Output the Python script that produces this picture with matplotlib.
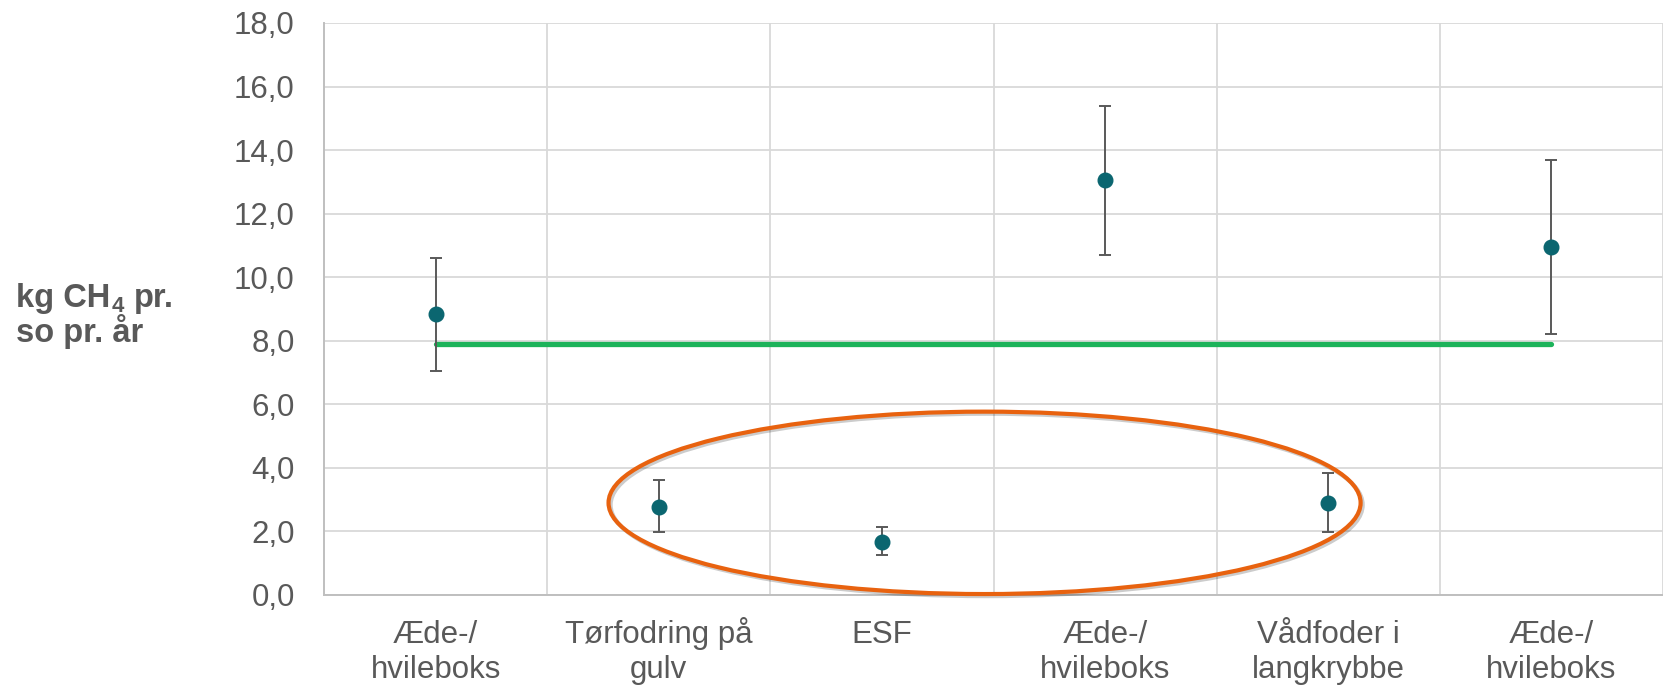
import matplotlib
matplotlib.use("Agg")
import matplotlib.pyplot as plt
import matplotlib.patheffects as pe
from matplotlib.patches import Ellipse

plt.rcParams['font.family'] = ['Liberation Sans', 'DejaVu Sans']

# Data
categories = ["Æde-/\nhvileboks", "Tørfodring på\ngulv", "ESF",
              "Æde-/\nhvileboks", "Vådfoder i\nlangkrybbe", "Æde-/\nhvileboks"]
values = [8.85, 2.77, 1.68, 13.05, 2.90, 10.95]
err_low = [7.05, 1.97, 1.26, 10.70, 1.99, 8.20]
err_high = [10.60, 3.62, 2.14, 15.38, 3.84, 13.68]
reference_level = 7.90
y_ticks = [0, 2, 4, 6, 8, 10, 12, 14, 16, 18]

# highlight ellipse (data coordinates)
ellipse_center = (2.46, 2.90)
ellipse_size = (3.37, 5.74)

text_col = "#595959"
grid_col = "#D9D9D9"
W, H = 1663, 686

fig = plt.figure(figsize=(W / 100, H / 100), dpi=100)
ax = fig.add_axes([324 / W, 1 - 595 / H, (W - 324) / W, (595 - 23) / H])

x = list(range(len(categories)))
yerr = [[v - lo for v, lo in zip(values, err_low)],
        [hi - v for v, hi in zip(values, err_high)]]

# green reference line across categories
ax.plot([x[0], x[-1]], [reference_level, reference_level], color="#1DB35A",
        lw=3.8, solid_capstyle="round", zorder=3)

ax.errorbar(x, values, yerr=yerr, fmt="o", color="#0B6670", markersize=10.5,
            ecolor="#595959", elinewidth=1.4, capsize=4.3, capthick=1.4, zorder=4)

ell = Ellipse(ellipse_center, ellipse_size[0], ellipse_size[1], fill=False,
              edgecolor="#E8620F", lw=3.0, zorder=5, clip_on=False)
ell.set_path_effects([pe.SimpleLineShadow(offset=(1.5, -1.5), shadow_color="#000000", alpha=0.2),
                      pe.Normal()])
ax.add_patch(ell)

ax.set_xlim(-0.5, 5.456)
ax.set_ylim(0, 18)

ax.set_yticks(y_ticks)
ax.set_yticklabels([f"{t:.1f}".replace(".", ",") for t in y_ticks])

# give every label two lines so the first lines share one baseline
tick_labels = [c if "\n" in c else c + "\n " for c in categories]
ax.set_xticks(x)
ax.set_xticklabels(tick_labels, linespacing=1.18)
ax.set_xticks([i + 0.5 for i in x], minor=True)

ax.tick_params(axis="both", which="both", length=0, labelsize=22.5, colors=text_col)
ax.tick_params(axis="y", pad=21)
ax.tick_params(axis="x", pad=59.5)
for lbl in ax.get_xticklabels():
    lbl.set_verticalalignment("baseline")

ax.grid(axis="y", which="major", color=grid_col, lw=1.3)
ax.grid(axis="x", which="minor", color=grid_col, lw=1.3)
ax.set_axisbelow(True)

for s in ["top", "right"]:
    ax.spines[s].set_visible(False)
for s in ["left", "bottom"]:
    ax.spines[s].set_color("#BFBFBF")
    ax.spines[s].set_linewidth(1.4)

# y-axis title, built from pieces so the subscript 4 gets its own size
renderer = fig.canvas.get_renderer()
title_kw = dict(fontweight="bold", color=text_col, ha="left", va="baseline")
t1 = fig.text(16 / W, 1 - 307 / H, "kg CH", fontsize=23.5, **title_kw)
x_end = t1.get_window_extent(renderer).x1
t2 = fig.text((x_end + 1) / W, 1 - 312 / H, "4", fontsize=16, **title_kw)
x_end = t2.get_window_extent(renderer).x1
fig.text((x_end + 10) / W, 1 - 307 / H, "pr.", fontsize=23.5, **title_kw)
fig.text(16 / W, 1 - 342 / H, "so pr. år", fontsize=23.5, **title_kw)

plt.savefig("out.png", dpi=100)
